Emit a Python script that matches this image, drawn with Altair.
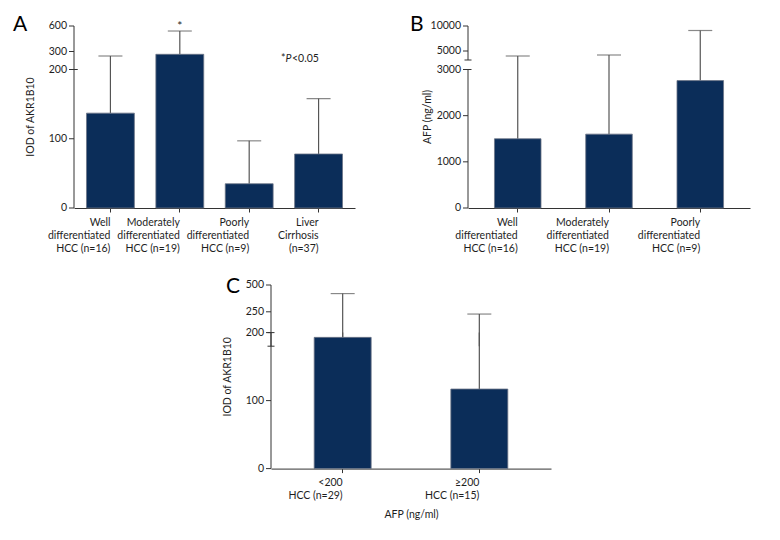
import altair as alt
import pandas as pd

FONT = "Lato"
BAR = "#0b2d59"
AX = "#333333"
TXT = "#1e1e1e"
ERR = "#555555"

# ---------------- data ----------------
a_labels = ["Well|differentiated|HCC (n=16)", "Moderately|differentiated|HCC (n=19)",
            "Poorly|differentiated|HCC (n=9)", "Liver|Cirrhosis|(n=37)"]
a_mean = [137, 267, 35, 78]
a_sd = [110, 274, 62, 80]
a_star = ["", "*", "", ""]
a_lower_ticks = [0, 100, 200]
a_upper_ticks = [300, 600]

b_labels = ["Well|differentiated|HCC (n=16)", "Moderately|differentiated|HCC (n=19)",
            "Poorly|differentiated|HCC (n=9)"]
b_mean = [1500, 1600, 2760]
b_sd = [2500, 2600, 6340]
b_lower_ticks = [0, 1000, 2000, 3000]
b_upper_ticks = [5000, 10000]

c_labels = ["<200|HCC (n=29)", "≥200|HCC (n=15)"]
c_mean = [193, 117]
c_sd = [227, 112]
c_lower_ticks = [0, 100, 200]
c_upper_ticks = [250, 500]

FS = 10.5


def panel(labels, means, sds, lower_ticks, upper_ticks, upper_min, ytitle, letter,
          width, lower_px, gap_px, upper_px, pin, pout, split, letter_x, letter_y,
          title_x, stars=None, xtitle=None, extra=None, xtitle_pad=6):
    lmax = lower_ticks[-1]
    umax = upper_ticks[-1]
    k = lower_px / lmax
    ku = upper_px / (umax - upper_min)
    H = lower_px + gap_px + upper_px

    def expr(f):
        return (f"datum.{f} <= {lmax} ? datum.{f} * {k} : "
                f"{lower_px + gap_px} + (datum.{f} - {upper_min}) * {ku}")

    yscale = alt.Scale(domain=[0, H], nice=False, zero=True)
    xscale = alt.Scale(paddingInner=pin, paddingOuter=pout)
    xaxis = alt.Axis(labelExpr="split(datum.label, '|')", labelAngle=0, labelLineHeight=13.3,
                     labelPadding=5, tickSize=4, labelFontSize=FS, titlePadding=xtitle_pad,
                     titleFontSize=FS, labelBaseline="top", labelOverlap=False)
    xenc = alt.X("cat:N", sort=labels, scale=xscale, axis=xaxis, title=xtitle)
    xplain = alt.X("cat:N", sort=labels)

    df = pd.DataFrame({"cat": labels, "mean": means, "sd": sds,
                       "star": stars if stars else [""] * len(labels)})
    df["top"] = df["mean"] + df["sd"]

    bars = alt.Chart(df).transform_calculate(ym=expr("mean")).mark_bar(
        color=BAR, stroke="#6c7587", strokeWidth=0.8
    ).encode(x=xenc, y=alt.Y("ym:Q", scale=yscale, axis=None))

    rows = []
    for c, m, s in zip(labels, means, sds):
        t = m + s
        if split and m < lmax and t > upper_min:
            rows.append((c, m, lmax))
            rows.append((c, upper_min, t))
        else:
            rows.append((c, m, t))
    edf = pd.DataFrame(rows, columns=["cat", "lo", "hi"])
    err = alt.Chart(edf).transform_calculate(ylo=expr("lo"), yhi=expr("hi")).mark_rule(
        color=ERR, strokeWidth=1.2
    ).encode(x=xplain, y=alt.Y("ylo:Q", axis=None), y2="yhi:Q")

    caps = alt.Chart(df).transform_calculate(yt=expr("top")).mark_tick(
        color=ERR, size=24, thickness=1.2
    ).encode(x=xplain, y=alt.Y("yt:Q", axis=None))

    # broken y axis: two domain segments, break marks, ticks and labels
    dom = pd.DataFrame({"lo": [0, upper_min], "hi": [lmax, umax]})
    domain = alt.Chart(dom).transform_calculate(ylo=expr("lo"), yhi=expr("hi")).mark_rule(
        color=AX, strokeWidth=1
    ).encode(x=alt.value(0), y=alt.Y("ylo:Q", axis=None), y2="yhi:Q")

    brk = pd.DataFrame({"v": [lmax, upper_min]})
    breaks = alt.Chart(brk).transform_calculate(yv=expr("v")).mark_rule(
        color=AX, strokeWidth=1
    ).encode(x=alt.value(-3.5), x2=alt.value(3.5), y=alt.Y("yv:Q", axis=None))

    tdf = pd.DataFrame({"v": lower_ticks + upper_ticks})
    tdf["lab"] = tdf["v"].astype(str)
    ticks = alt.Chart(tdf).transform_calculate(yv=expr("v")).mark_rule(
        color=AX, strokeWidth=1
    ).encode(x=alt.value(-5), x2=alt.value(0), y=alt.Y("yv:Q", axis=None))
    tlabels = alt.Chart(tdf).transform_calculate(yv=expr("v")).mark_text(
        fontSize=FS, align="right", baseline="middle"
    ).encode(x=alt.value(-7), y=alt.Y("yv:Q", axis=None), text="lab:N")

    ytit = alt.Chart(pd.DataFrame({"t": [ytitle]})).mark_text(
        fontSize=FS, align="center", baseline="middle", angle=270
    ).encode(text="t:N", x=alt.value(title_x), y=alt.value(H / 2))

    let = alt.Chart(pd.DataFrame({"t": [letter]})).mark_text(
        fontSize=21, align="left", baseline="alphabetic", color="#000000"
    ).encode(text="t:N", x=alt.value(letter_x), y=alt.value(letter_y))

    layers = [err, bars, caps, domain, breaks, ticks, tlabels, ytit, let]

    if stars:
        st = alt.Chart(df).transform_filter("datum.star != ''").transform_calculate(
            yt=expr("top")).mark_text(fontSize=12, baseline="alphabetic", dy=-1).encode(
            x=xplain, y=alt.Y("yt:Q", axis=None), text="star:N")
        layers.append(st)
    if extra:
        layers.extend(extra)

    return alt.layer(*layers).properties(width=width, height=H)


# "*P<0.05" annotation for panel A
ann_star = alt.Chart(pd.DataFrame({"t": ["*"]})).mark_text(
    fontSize=FS, align="left", baseline="alphabetic").encode(
    text="t:N", x=alt.value(207), y=alt.value(36))
ann_p = alt.Chart(pd.DataFrame({"t": ["P"]})).mark_text(
    fontSize=FS, align="left", baseline="alphabetic", fontStyle="italic").encode(
    text="t:N", x=alt.value(211.5), y=alt.value(36))
ann_rest = alt.Chart(pd.DataFrame({"t": ["<0.05"]})).mark_text(
    fontSize=FS, align="left", baseline="alphabetic").encode(
    text="t:N", x=alt.value(218), y=alt.value(36))

A = panel(a_labels, a_mean, a_sd, a_lower_ticks, a_upper_ticks, 200, "IOD of AKR1B10", "A",
          281, 138.5, 9.5, 34, 0.31, 0.18, False, -61, 5, -43, stars=a_star,
          extra=[ann_star, ann_p, ann_rest])
B = panel(b_labels, b_mean, b_sd, b_lower_ticks, b_upper_ticks, 3200, "AFP (ng/ml)", "B",
          282, 138.5, 9.5, 34, 0.49, 0.29, False, -58, 5, -40)
C = panel(c_labels, c_mean, c_sd, c_lower_ticks, c_upper_ticks, 180, "IOD of AKR1B10", "C",
          280, 136, 13.3, 34.3, 0.583, 0.316, True, -45, 8, -43, xtitle="AFP (ng/ml)",
          xtitle_pad=8)

spacer = alt.Chart(pd.DataFrame({"a": [0]})).mark_rule(opacity=0).encode(
    x=alt.value(0), x2=alt.value(1), y=alt.value(0)).properties(width=1, height=1)

row1 = alt.hconcat(A, B, spacing=113, bounds="flush")
row2 = alt.hconcat(spacer, C, spacing=196, bounds="flush")
chart = alt.vconcat(row1, row2, spacing=21).properties(
    padding={"left": 5, "top": 6, "right": 5, "bottom": 5}
).configure_view(stroke=None).configure_axis(
    labelFont=FONT, titleFont=FONT, labelColor=TXT, titleColor=TXT,
    titleFontWeight="normal", domainColor=AX, tickColor=AX, domainWidth=1, tickWidth=1
).configure_text(font=FONT, color=TXT)

chart.save("out.html", embed_options={"renderer": "svg", "actions": False})
